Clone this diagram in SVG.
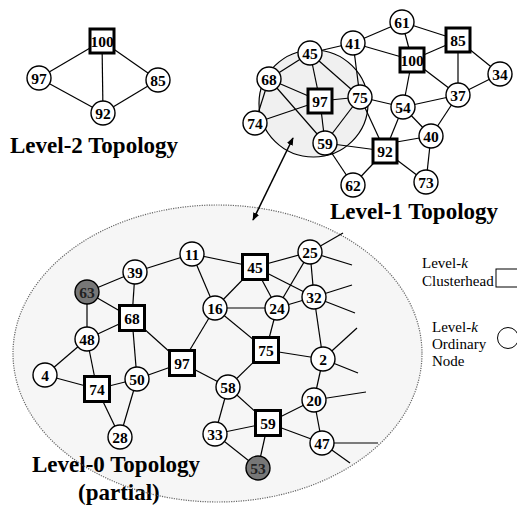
<svg xmlns="http://www.w3.org/2000/svg" width="517" height="509" viewBox="0 0 517 509">
<defs>
<style>
.e{stroke:#000;stroke-width:1.2;fill:none}
.c{fill:#fff;stroke:#000;stroke-width:1.4}
.g{fill:#777;stroke:#000;stroke-width:1.4}
.s{fill:#fff;stroke:#000;stroke-width:3}
.t{font-family:"Liberation Serif","Times New Roman",serif;font-weight:bold;font-size:15.5px;text-anchor:middle;fill:#000}
.tg{fill:#222}
.h{font-family:"Liberation Serif","Times New Roman",serif;font-weight:bold;font-size:23px;fill:#000}
.l{font-family:"Liberation Serif","Times New Roman",serif;font-size:15px;fill:#000}
</style>
<marker id="ah" viewBox="0 0 10 10" refX="9" refY="5" markerWidth="8" markerHeight="8" orient="auto-start-reverse" markerUnits="userSpaceOnUse">
<path d="M0,1 L10,5 L0,9 z" fill="#000"/>
</marker>
</defs>
<rect width="517" height="509" fill="#fff"/>

<!-- backgrounds -->
<ellipse cx="217.5" cy="353.5" rx="204.5" ry="148.5" fill="#f6f6f6"/>
<ellipse cx="313.5" cy="103.5" rx="54.5" ry="53.5" fill="#f0f0f0" stroke="#000" stroke-width="1.2"/>

<!-- titles -->
<text class="h" x="10" y="153">Level-2 Topology</text>
<text class="h" x="330" y="219">Level-1 Topology</text>
<text class="h" x="32" y="472">Level-0 Topology</text>
<text class="h" x="78" y="500">(partial)</text>
<ellipse cx="217.5" cy="353.5" rx="204.5" ry="148.5" fill="none" stroke="#666" stroke-width="1.2" stroke-dasharray="1.2,1.2"/>

<!-- legend -->
<g id="legend-clusterhead">
<text class="l" x="422" y="268">Level-<tspan font-style="italic">k</tspan></text>
<text class="l" x="422" y="286">Clusterhead</text>
<rect x="496" y="269" width="26" height="18" fill="#fff" stroke="#000" stroke-width="1"/>
</g>
<g id="legend-ordinary">
<text class="l" x="432" y="332">Level-<tspan font-style="italic">k</tspan></text>
<text class="l" x="432" y="349">Ordinary</text>
<text class="l" x="432" y="366">Node</text>
<circle cx="508" cy="338" r="10.5" fill="#fff" stroke="#000" stroke-width="1"/>
</g>

<g id="connectors">
<!-- level-2 -->
<line class="e" x1="102" y1="41" x2="39" y2="78"/>
<line class="e" x1="102" y1="41" x2="158" y2="80"/>
<line class="e" x1="102" y1="41" x2="103" y2="113"/>
<line class="e" x1="39" y1="78" x2="103" y2="113"/>
<line class="e" x1="158" y1="80" x2="103" y2="113"/>
<!-- level-1 -->
<line class="e" x1="402" y1="22" x2="353" y2="43"/>
<line class="e" x1="402" y1="22" x2="412" y2="60"/>
<line class="e" x1="402" y1="22" x2="458" y2="40"/>
<line class="e" x1="353" y1="43" x2="310" y2="53"/>
<line class="e" x1="353" y1="43" x2="412" y2="60"/>
<line class="e" x1="353" y1="43" x2="360" y2="97"/>
<line class="e" x1="458" y1="40" x2="412" y2="60"/>
<line class="e" x1="458" y1="40" x2="458" y2="95"/>
<line class="e" x1="458" y1="40" x2="500" y2="74"/>
<line class="e" x1="412" y1="60" x2="458" y2="95"/>
<line class="e" x1="412" y1="60" x2="403" y2="107"/>
<line class="e" x1="500" y1="74" x2="458" y2="95"/>
<line class="e" x1="310" y1="53" x2="269" y2="79"/>
<line class="e" x1="310" y1="53" x2="320" y2="101"/>
<line class="e" x1="310" y1="53" x2="360" y2="97"/>
<line class="e" x1="269" y1="79" x2="320" y2="101"/>
<line class="e" x1="269" y1="79" x2="255" y2="123"/>
<line class="e" x1="269" y1="79" x2="325" y2="143"/>
<line class="e" x1="320" y1="101" x2="255" y2="123"/>
<line class="e" x1="320" y1="101" x2="360" y2="97"/>
<line class="e" x1="320" y1="101" x2="325" y2="143"/>
<line class="e" x1="360" y1="97" x2="325" y2="143"/>
<line class="e" x1="360" y1="97" x2="403" y2="107"/>
<line class="e" x1="360" y1="97" x2="385" y2="151"/>
<line class="e" x1="403" y1="107" x2="458" y2="95"/>
<line class="e" x1="403" y1="107" x2="431" y2="136"/>
<line class="e" x1="403" y1="107" x2="385" y2="151"/>
<line class="e" x1="458" y1="95" x2="431" y2="136"/>
<line class="e" x1="431" y1="136" x2="385" y2="144"/>
<line class="e" x1="431" y1="136" x2="426" y2="182"/>
<line class="e" x1="325" y1="143" x2="385" y2="151"/>
<line class="e" x1="325" y1="143" x2="353" y2="185"/>
<line class="e" x1="385" y1="151" x2="353" y2="185"/>
<line class="e" x1="385" y1="151" x2="426" y2="182"/>
<!-- level-0 -->
<line class="e" x1="192" y1="254" x2="135" y2="272"/>
<line class="e" x1="192" y1="254" x2="255" y2="267"/>
<line class="e" x1="192" y1="254" x2="215" y2="308"/>
<line class="e" x1="135" y1="272" x2="87" y2="292"/>
<line class="e" x1="135" y1="272" x2="132" y2="318"/>
<line class="e" x1="87" y1="292" x2="132" y2="318"/>
<line class="e" x1="87" y1="292" x2="87" y2="339"/>
<line class="e" x1="87" y1="339" x2="132" y2="318"/>
<line class="e" x1="87" y1="339" x2="45" y2="375"/>
<line class="e" x1="87" y1="339" x2="97" y2="389"/>
<line class="e" x1="45" y1="375" x2="97" y2="389"/>
<line class="e" x1="97" y1="389" x2="137" y2="379"/>
<line class="e" x1="97" y1="389" x2="120" y2="437"/>
<line class="e" x1="137" y1="379" x2="120" y2="437"/>
<line class="e" x1="137" y1="379" x2="132" y2="318"/>
<line class="e" x1="137" y1="379" x2="182" y2="363"/>
<line class="e" x1="132" y1="318" x2="182" y2="363"/>
<line class="e" x1="182" y1="363" x2="215" y2="308"/>
<line class="e" x1="182" y1="363" x2="228" y2="387"/>
<line class="e" x1="215" y1="308" x2="255" y2="267"/>
<line class="e" x1="215" y1="308" x2="277" y2="308"/>
<line class="e" x1="215" y1="308" x2="266" y2="350"/>
<line class="e" x1="255" y1="267" x2="310" y2="252"/>
<line class="e" x1="255" y1="267" x2="277" y2="308"/>
<line class="e" x1="255" y1="267" x2="314" y2="297"/>
<line class="e" x1="310" y1="252" x2="277" y2="308"/>
<line class="e" x1="310" y1="252" x2="314" y2="297"/>
<line class="e" x1="277" y1="308" x2="314" y2="297"/>
<line class="e" x1="277" y1="308" x2="266" y2="350"/>
<line class="e" x1="266" y1="350" x2="323" y2="359"/>
<line class="e" x1="266" y1="350" x2="228" y2="387"/>
<line class="e" x1="314" y1="297" x2="323" y2="359"/>
<line class="e" x1="228" y1="387" x2="268" y2="423"/>
<line class="e" x1="228" y1="387" x2="215" y2="434"/>
<line class="e" x1="215" y1="434" x2="268" y2="423"/>
<line class="e" x1="215" y1="434" x2="258" y2="468"/>
<line class="e" x1="268" y1="423" x2="258" y2="468"/>
<line class="e" x1="268" y1="423" x2="314" y2="400"/>
<line class="e" x1="268" y1="423" x2="322" y2="443"/>
<line class="e" x1="314" y1="400" x2="323" y2="359"/>
<line class="e" x1="314" y1="400" x2="322" y2="443"/>
<line class="e" x1="310" y1="252" x2="343" y2="233"/>
<line class="e" x1="310" y1="252" x2="352" y2="265"/>
<line class="e" x1="314" y1="297" x2="352" y2="285"/>
<line class="e" x1="314" y1="297" x2="355" y2="313"/>
<line class="e" x1="323" y1="359" x2="357" y2="328"/>
<line class="e" x1="323" y1="359" x2="358" y2="373"/>
<line class="e" x1="314" y1="400" x2="366" y2="392"/>
<line class="e" x1="322" y1="443" x2="378" y2="443"/>
<line class="e" x1="322" y1="443" x2="350" y2="463"/>
<!-- level link arrow -->
<line x1="293" y1="138" x2="253" y2="220" stroke="#000" stroke-width="1.5" marker-start="url(#ah)" marker-end="url(#ah)"/>
</g>

<!-- Level-2 nodes -->
<g id="L2-100"><rect class="s" x="90" y="29" width="24" height="24"/><text class="t" x="102" y="46.5">100</text></g>
<g id="L2-97"><circle class="c" cx="39" cy="78" r="12"/><text class="t" x="39" y="83.5">97</text></g>
<g id="L2-85"><circle class="c" cx="158" cy="80" r="12"/><text class="t" x="158" y="85.5">85</text></g>
<g id="L2-92"><circle class="c" cx="103" cy="113" r="12"/><text class="t" x="103" y="118.5">92</text></g>

<!-- Level-1 nodes -->
<g id="L1-61"><circle class="c" cx="402" cy="22" r="12"/><text class="t" x="402" y="27.5">61</text></g>
<g id="L1-85"><rect class="s" x="446" y="28" width="24" height="24"/><text class="t" x="458" y="45.5">85</text></g>
<g id="L1-41"><circle class="c" cx="353" cy="43" r="12"/><text class="t" x="353" y="48.5">41</text></g>
<g id="L1-45"><circle class="c" cx="310" cy="53" r="12"/><text class="t" x="310" y="58.5">45</text></g>
<g id="L1-100"><rect class="s" x="400" y="48" width="24" height="24"/><text class="t" x="412" y="65.5">100</text></g>
<g id="L1-34"><circle class="c" cx="500" cy="74" r="12"/><text class="t" x="500" y="79.5">34</text></g>
<g id="L1-68"><circle class="c" cx="269" cy="79" r="12"/><text class="t" x="269" y="84.5">68</text></g>
<g id="L1-97"><rect class="s" x="308" y="89" width="24" height="24"/><text class="t" x="320" y="106.5">97</text></g>
<g id="L1-75"><circle class="c" cx="360" cy="97" r="12"/><text class="t" x="360" y="102.5">75</text></g>
<g id="L1-37"><circle class="c" cx="458" cy="95" r="12"/><text class="t" x="458" y="100.5">37</text></g>
<g id="L1-54"><circle class="c" cx="403" cy="107" r="12"/><text class="t" x="403" y="112.5">54</text></g>
<g id="L1-74"><circle class="c" cx="255" cy="123" r="12"/><text class="t" x="255" y="128.5">74</text></g>
<g id="L1-40"><circle class="c" cx="431" cy="136" r="12"/><text class="t" x="431" y="141.5">40</text></g>
<g id="L1-59"><circle class="c" cx="325" cy="143" r="12"/><text class="t" x="325" y="148.5">59</text></g>
<g id="L1-92"><rect class="s" x="373" y="139" width="24" height="24"/><text class="t" x="385" y="156.5">92</text></g>
<g id="L1-62"><circle class="c" cx="353" cy="185" r="12"/><text class="t" x="353" y="190.5">62</text></g>
<g id="L1-73"><circle class="c" cx="426" cy="182" r="12"/><text class="t" x="426" y="187.5">73</text></g>

<!-- Level-0 nodes -->
<g id="L0-11"><circle class="c" cx="192" cy="254" r="12"/><text class="t" x="192" y="259.5">11</text></g>
<g id="L0-39"><circle class="c" cx="135" cy="272" r="12"/><text class="t" x="135" y="277.5">39</text></g>
<g id="L0-45"><rect class="s" x="242.5" y="254.5" width="25" height="25"/><text class="t" x="255" y="272.5">45</text></g>
<g id="L0-25"><circle class="c" cx="310" cy="252" r="12"/><text class="t" x="310" y="257.5">25</text></g>
<g id="L0-63"><circle class="g" cx="87" cy="292" r="12"/><text class="t tg" x="87" y="297.5">63</text></g>
<g id="L0-16"><circle class="c" cx="215" cy="308" r="12"/><text class="t" x="215" y="313.5">16</text></g>
<g id="L0-24"><circle class="c" cx="277" cy="308" r="12"/><text class="t" x="277" y="313.5">24</text></g>
<g id="L0-32"><circle class="c" cx="314" cy="297" r="12"/><text class="t" x="314" y="302.5">32</text></g>
<g id="L0-68"><rect class="s" x="119.5" y="305.5" width="25" height="25"/><text class="t" x="132" y="323.5">68</text></g>
<g id="L0-48"><circle class="c" cx="87" cy="339" r="12"/><text class="t" x="87" y="344.5">48</text></g>
<g id="L0-75"><rect class="s" x="253.5" y="337.5" width="25" height="25"/><text class="t" x="266" y="355.5">75</text></g>
<g id="L0-2"><circle class="c" cx="323" cy="359" r="12"/><text class="t" x="323" y="364.5">2</text></g>
<g id="L0-97"><rect class="s" x="169.5" y="350.5" width="25" height="25"/><text class="t" x="182" y="368.5">97</text></g>
<g id="L0-4"><circle class="c" cx="45" cy="375" r="12"/><text class="t" x="45" y="380.5">4</text></g>
<g id="L0-50"><circle class="c" cx="137" cy="379" r="12"/><text class="t" x="137" y="384.5">50</text></g>
<g id="L0-74"><rect class="s" x="84.5" y="376.5" width="25" height="25"/><text class="t" x="97" y="394.5">74</text></g>
<g id="L0-58"><circle class="c" cx="228" cy="387" r="12"/><text class="t" x="228" y="392.5">58</text></g>
<g id="L0-20"><circle class="c" cx="314" cy="400" r="12"/><text class="t" x="314" y="405.5">20</text></g>
<g id="L0-59"><rect class="s" x="255.5" y="410.5" width="25" height="25"/><text class="t" x="268" y="428.5">59</text></g>
<g id="L0-33"><circle class="c" cx="215" cy="434" r="12"/><text class="t" x="215" y="439.5">33</text></g>
<g id="L0-47"><circle class="c" cx="322" cy="443" r="12"/><text class="t" x="322" y="448.5">47</text></g>
<g id="L0-28"><circle class="c" cx="120" cy="437" r="12"/><text class="t" x="120" y="442.5">28</text></g>
<g id="L0-53"><circle class="g" cx="258" cy="468" r="12"/><text class="t tg" x="258" y="473.5">53</text></g>
</svg>
